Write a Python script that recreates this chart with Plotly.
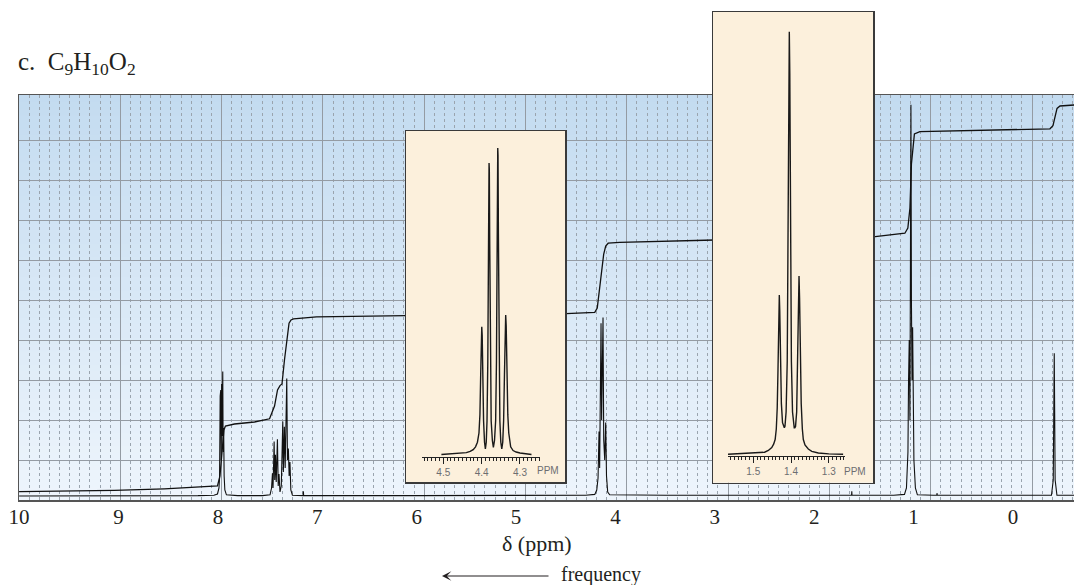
import plotly.graph_objects as go

W, H = 1074, 585

# ---------------- data ----------------
axis_ticks = [10, 9, 8, 7, 6, 5, 4, 3, 2, 1, 0]
axis_tick_text = ["10", "9", "8", "7", "6", "5", "4", "3", "2", "1", "0"]

# main 1H spectrum trace (delta ppm, height in grid rows)
spec_ppm = [10.0, 9.04, 8.2, 8.04, 8.004, 7.989, 7.983, 7.977, 7.974, 7.971, 7.967, 7.962,
            7.958, 7.951, 7.947, 7.942, 7.937, 7.930, 7.914, 7.8, 7.55, 7.475, 7.460, 7.451,
            7.445, 7.434, 7.428, 7.421, 7.413, 7.401, 7.393, 7.385, 7.375, 7.362, 7.347,
            7.341, 7.331, 7.323, 7.307, 7.300, 7.291, 7.283, 7.275, 7.266, 7.250, 7.16,
            7.143, 7.140, 7.137, 6.0, 5.0, 4.3, 4.208, 4.188, 4.175, 4.165, 4.159, 4.152,
            4.145, 4.139, 4.132, 4.125, 4.118, 4.108, 4.098, 4.090, 4.078, 4.058, 3.5, 2.5,
            1.75, 1.624, 1.622, 1.620, 1.2, 1.092, 1.072, 1.057, 1.051, 1.044, 1.037, 1.032,
            1.027, 1.022, 1.016, 1.010, 1.003, 0.997, 0.982, 0.962, 0.8, 0.767, 0.765, 0.762,
            0.0, -0.387, -0.405, -0.415, -0.424, -0.442, -0.614]
spec_int = [0.10, 0.10, 0.11, 0.12, 0.15, 0.30, 0.55, 2.60, 1.20, 2.75, 1.00, 2.90,
            1.60, 3.21, 1.20, 1.80, 0.60, 0.25, 0.13, 0.11, 0.11, 0.13, 0.30, 0.67,
            0.30, 1.46, 0.50, 1.13, 0.45, 1.52, 0.35, 0.65, 0.20, 0.35, 1.96,
            0.70, 1.83, 0.80, 3.04, 1.00, 1.29, 0.60, 0.95, 0.25, 0.12, 0.11,
            0.11, 0.22, 0.11, 0.11, 0.12, 0.12, 0.14, 0.25, 0.55, 1.71, 0.80, 3.40,
            4.42, 2.00, 3.00, 4.56, 1.50, 1.00, 1.94, 0.60, 0.20, 0.13, 0.12, 0.12,
            0.12, 0.12, 0.22, 0.12, 0.12, 0.14, 0.30, 1.20, 3.00, 4.00, 2.00, 6.00,
            9.88, 5.00, 3.00, 4.32, 2.00, 1.00, 0.30, 0.13, 0.12, 0.12, 0.17, 0.12,
            0.12, 0.12, 0.50, 3.67, 0.50, 0.12, 0.12]

# integral trace
integ_ppm = [10.0, 9.041, 8.538, 8.135, 8.004, 7.979, 7.959, 7.939, 7.924, 7.833, 7.632,
             7.480, 7.430, 7.400, 7.375, 7.355, 7.330, 7.304, 7.284, 7.264, 7.239, 7.008,
             6.575, 6.106, 4.497, 4.208, 4.183, 4.168, 4.153, 4.138, 4.118, 4.098, 4.073,
             3.957, 3.000, 1.408, 1.088, 1.058, 1.037, 1.022, 1.007, 0.992, 0.937, 0.484,
             -0.020, -0.372, -0.402, -0.422, -0.443, -0.473, -0.614]
integ_val = [0.21, 0.24, 0.28, 0.32, 0.35, 0.60, 1.30, 1.75, 1.85, 1.90, 1.95,
             2.03, 2.35, 2.75, 2.86, 2.90, 3.50, 4.00, 4.42, 4.50, 4.53, 4.58,
             4.60, 4.61, 4.66, 4.69, 4.80, 5.10, 5.45, 5.80, 6.15, 6.35, 6.42,
             6.44, 6.50, 6.58, 6.67, 6.80, 7.30, 8.40, 8.90, 9.15, 9.21, 9.24,
             9.26, 9.28, 9.36, 9.60, 9.79, 9.85, 9.875]

# inset 1: quartet expansion (ppm, relative intensity)
q_ppm = [4.505, 4.480, 4.455, 4.440, 4.430, 4.422, 4.416, 4.411, 4.407, 4.4045, 4.4025,
         4.4008, 4.3997, 4.3986, 4.3970, 4.3950, 4.3925, 4.3903, 4.3880, 4.3860, 4.3840,
         4.3822, 4.3812, 4.3807, 4.3800, 4.3790, 4.3772, 4.3752, 4.3720, 4.3694, 4.3665,
         4.3635, 4.3614, 4.3596, 4.3586, 4.3580, 4.3573, 4.3563, 4.3545, 4.3525, 4.3500,
         4.3475, 4.3450, 4.3427, 4.3405, 4.3385, 4.3373, 4.3360, 4.3340, 4.3318, 4.3293,
         4.3265, 4.3243, 4.318, 4.310, 4.300, 4.285, 4.270]
q_int = [0.000, 0.002, 0.004, 0.006, 0.010, 0.016, 0.025, 0.040, 0.070, 0.130, 0.260,
         0.390, 0.417, 0.390, 0.250, 0.110, 0.040, 0.018, 0.040, 0.110, 0.300,
         0.700, 0.930, 0.951, 0.930, 0.700, 0.300, 0.110, 0.045, 0.0235, 0.045,
         0.110, 0.300, 0.720, 0.975, 1.000, 0.975, 0.720, 0.300, 0.110, 0.040,
         0.018, 0.040, 0.110, 0.260, 0.420, 0.455, 0.420, 0.260, 0.130, 0.070,
         0.040, 0.025, 0.013, 0.008, 0.005, 0.002, 0.000]

# inset 2: triplet expansion (ppm, relative intensity)
t_ppm = [1.5669, 1.540, 1.510, 1.490, 1.470, 1.460, 1.451, 1.446, 1.442, 1.439, 1.4365,
         1.4345, 1.4325, 1.4310, 1.4298, 1.4280, 1.4255, 1.4225, 1.4195, 1.4177, 1.4160,
         1.4130, 1.4100, 1.4075, 1.4058, 1.4045, 1.4032, 1.4015, 1.3990, 1.3960, 1.3930,
         1.3915, 1.3899, 1.3880, 1.3850, 1.3825, 1.3805, 1.3788, 1.3773, 1.3755, 1.3730,
         1.3700, 1.3674, 1.363, 1.3542, 1.345, 1.3277, 1.300, 1.262]
t_int = [0.000, 0.001, 0.002, 0.003, 0.005, 0.009, 0.016, 0.024, 0.035, 0.060, 0.110,
         0.200, 0.330, 0.377, 0.340, 0.220, 0.120, 0.075, 0.064, 0.063, 0.066,
         0.100, 0.220, 0.550, 0.900, 1.000, 0.900, 0.550, 0.220, 0.100, 0.067,
         0.063, 0.063, 0.066, 0.100, 0.230, 0.370, 0.422, 0.370, 0.230, 0.120,
         0.060, 0.035, 0.022, 0.0125, 0.007, 0.003, 0.001, 0.000]

inset1_ticks = [4.5, 4.4, 4.3]
inset2_ticks = [1.5, 1.4, 1.3]

# ---------------- helpers ----------------
def fx(px):
    return px / W


def fy(py):
    return 1 - py / H


SERIF = "Liberation Serif, Times New Roman, serif"
SANS = "Liberation Sans, Arial, sans-serif"
INK = "#231f20"
BEIGE = "#fcf0dc"

fig = go.Figure()

fig.add_trace(go.Scatter(x=spec_ppm, y=spec_int, xaxis="x", yaxis="y", mode="lines",
                         line=dict(color="#111111", width=1.1), hoverinfo="skip", showlegend=False))
fig.add_trace(go.Scatter(x=integ_ppm, y=integ_val, xaxis="x", yaxis="y", mode="lines",
                         line=dict(color="#111111", width=1.3), hoverinfo="skip", showlegend=False))
fig.add_trace(go.Scatter(x=[None], y=[None], xaxis="x2", yaxis="y", mode="lines",
                         hoverinfo="skip", showlegend=False))
fig.add_trace(go.Scatter(x=[None], y=[None], xaxis="x3", yaxis="y3", mode="lines",
                         hoverinfo="skip", showlegend=False))
fig.add_trace(go.Scatter(x=q_ppm, y=q_int, xaxis="x4", yaxis="y4", mode="lines",
                         line=dict(color="#1a1a1a", width=1.4), hoverinfo="skip", showlegend=False))
fig.add_trace(go.Scatter(x=[None], y=[None], xaxis="x5", yaxis="y5", mode="lines",
                         hoverinfo="skip", showlegend=False))
fig.add_trace(go.Scatter(x=t_ppm, y=t_int, xaxis="x6", yaxis="y6", mode="lines",
                         line=dict(color="#1a1a1a", width=1.4), hoverinfo="skip", showlegend=False))

main_xdom = [fx(19), 1.0]
main_ydom = [fy(500), fy(95)]
label_scale = 99.4   # px per ppm of the printed scale
grid_scale = 101.3   # px per major grid division

no_axis = dict(showgrid=False, zeroline=False, showticklabels=False, ticks="")

box_axis = dict(range=[0, 1], showline=True, mirror=True, linecolor="#3a3a3a", linewidth=1.5,
                fixedrange=True, automargin=False, **no_axis)

inset_x_common = dict(showline=True, linecolor="#222222", linewidth=1, ticks="outside",
                      ticklen=6, tickwidth=1, tickcolor="#222222", showgrid=False,
                      zeroline=False, automargin=False,
                      tickfont=dict(family=SANS, size=10, color="#6d6e71"),
                      minor=dict(dtick=0.01, tick0=0, ticks="outside", ticklen=3,
                                 tickwidth=1, tickcolor="#222222", showgrid=False))

fig.update_layout(
    width=W, height=H, autosize=False,
    margin=dict(l=0, r=0, t=0, b=0, pad=0, autoexpand=False),
    paper_bgcolor="white",
    plot_bgcolor=BEIGE,
    showlegend=False,
    xaxis=dict(domain=main_xdom, anchor="y", automargin=False,
               range=[10.001, 10 - (W - 19) / label_scale],
               tickmode="array", tickvals=axis_ticks, ticktext=axis_tick_text,
               ticks="", ticklabelstandoff=-3,
               tickfont=dict(family=SERIF, size=21, color=INK),
               showgrid=False, zeroline=False, showline=True, mirror=True,
               linecolor="#555555", linewidth=1.5, fixedrange=True),
    xaxis2=dict(domain=main_xdom, anchor="y", overlaying="x", side="bottom", automargin=False,
                range=[10, 10 - (W - 19) / grid_scale],
                tick0=0, dtick=1, showticklabels=False, ticks="",
                showgrid=True, gridcolor="#949ba3", gridwidth=1, zeroline=False,
                showline=False, fixedrange=True,
                minor=dict(tick0=0, dtick=0.1, showgrid=True, gridcolor="#9aa4ae",
                           gridwidth=1, griddash="3px,3px", ticks="")),
    yaxis=dict(domain=main_ydom, anchor="x", range=[0, 10.125], automargin=False,
               tickmode="array", tickvals=[1, 2, 3, 4, 5, 6, 7, 8, 9],
               showticklabels=False, ticks="", showgrid=True, gridcolor="#949ba3",
               gridwidth=1, zeroline=False, showline=True, linecolor="#555555",
               linewidth=1.5, fixedrange=True),
    # inset 1 box and spectrum
    xaxis3=dict(domain=[fx(406), fx(565)], anchor="y3", **box_axis),
    yaxis3=dict(domain=[fy(482.3), fy(131)], anchor="x3", **box_axis),
    xaxis4=dict(domain=[fx(422), fx(540)], anchor="y4", range=[4.5556, 4.2478],
                tickmode="array", tickvals=inset1_ticks,
                ticktext=["%.1f" % v for v in inset1_ticks], fixedrange=True,
                **inset_x_common),
    yaxis4=dict(domain=[fy(456.7), fy(140)], anchor="x4", range=[-0.0072, 1.026],
                visible=False, fixedrange=True, automargin=False),
    # inset 2 box and spectrum
    xaxis5=dict(domain=[fx(713), fx(873)], anchor="y5", **box_axis),
    yaxis5=dict(domain=[fy(482.7), fy(12)], anchor="x5", **box_axis),
    xaxis6=dict(domain=[fx(728), fx(845)], anchor="y6", range=[1.5669, 1.2570],
                tickmode="array", tickvals=inset2_ticks,
                ticktext=["%.1f" % v for v in inset2_ticks], fixedrange=True,
                **inset_x_common),
    yaxis6=dict(domain=[fy(455.5), fy(20)], anchor="x6", range=[-0.0028, 1.0277],
                visible=False, fixedrange=True, automargin=False),
)

# blue vertical gradient behind the main grid
top_rgb = (195, 219, 240)
bot_rgb = (238, 245, 252)
nb = 60
shapes = []
for i in range(nb):
    t = (i + 0.5) / nb
    c = tuple(round(bot_rgb[k] + (top_rgb[k] - bot_rgb[k]) * t) for k in range(3))
    shapes.append(dict(type="rect", xref="x domain", yref="y domain",
                       x0=0, x1=1, y0=i / nb, y1=min(1, (i + 1) / nb + 0.002),
                       fillcolor="rgb(%d,%d,%d)" % c, line=dict(width=0), layer="below"))
fig.update_layout(shapes=shapes)

annotations = [
    dict(text="c.&nbsp;&nbsp;C<sub>9</sub>H<sub>10</sub>O<sub>2</sub>", x=fx(16), y=fy(63),
         xref="paper", yref="paper", xanchor="left", yanchor="middle", showarrow=False,
         font=dict(family=SERIF, size=25, color=INK)),
    dict(text="δ (ppm)", x=fx(537), y=fy(543), xref="paper", yref="paper",
         xanchor="center", yanchor="middle", showarrow=False,
         font=dict(family=SERIF, size=22, color=INK)),
    dict(text="frequency", x=fx(559), y=fy(574), xref="paper", yref="paper",
         xanchor="left", yanchor="middle", showarrow=False,
         font=dict(family=SERIF, size=20, color=INK)),
    dict(text="", x=fx(442), y=fy(576), xref="paper", yref="paper", showarrow=True,
         ax=108, ay=0, axref="pixel", ayref="pixel", arrowhead=3, arrowsize=1.3,
         arrowwidth=1.2, arrowcolor=INK, standoff=0, startstandoff=0),
    dict(text="PPM", x=fx(548), y=fy(470.7), xref="paper", yref="paper",
         xanchor="center", yanchor="middle", showarrow=False,
         font=dict(family=SANS, size=10, color="#6d6e71")),
    dict(text="PPM", x=fx(855), y=fy(471.7), xref="paper", yref="paper",
         xanchor="center", yanchor="middle", showarrow=False,
         font=dict(family=SANS, size=10, color="#6d6e71")),
]
fig.update_layout(annotations=annotations)

fig.write_html("out.html", config={"displayModeBar": False, "staticPlot": True},
               post_script="document.body.style.margin='0';document.body.style.overflow='hidden';")
